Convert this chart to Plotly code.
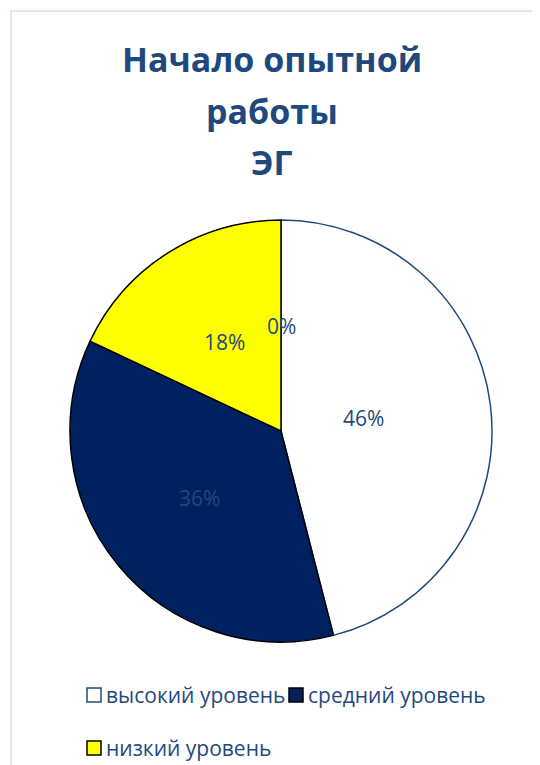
import math
import plotly.graph_objects as go

# ---- data ----
categories = ["высокий уровень", "средний уровень", "низкий уровень", ""]
values = [46, 36, 18, 0]
title_lines = ["Начало опытной", "работы", "ЭГ"]

slice_colors = ["#FFFFFF", "#002060", "#FFFF00", "#FFFFFF"]
line_colors = ["#1F497D", "#000000", "#000000", "#000000"]
TEXT = "#1F497D"
FONT = "Open Sans"

W, H = 540, 765
OFF = 8                      # page body margin
cx, cy, R = 281 - OFF, 431 - OFF, 211  # pie centre / radius (figure px)


def px(x):
    return x / W


def py(y):
    return 1 - y / H


shown = [i for i, c in enumerate(categories) if c]

fig = go.Figure()
fig.add_trace(go.Pie(
    labels=[categories[i] for i in shown],
    values=[values[i] for i in shown],
    sort=False,
    direction="clockwise",
    rotation=0,
    marker=dict(colors=[slice_colors[i] for i in shown],
                line=dict(color=[line_colors[i] for i in shown], width=1.5)),
    textinfo="none",
    hoverinfo="label+percent",
    domain=dict(x=[px(cx - R), px(cx + R)], y=[py(cy + R), py(cy - R)]),
    showlegend=False,
))

annotations = []
shapes = []

# percentage labels at half radius on each slice's mid-angle
total = sum(values)
cum = 0
for v in values:
    mid = (cum + v / 2) / total * 2 * math.pi
    cum += v
    lx = cx + 0.5 * R * math.sin(mid)
    ly = cy - 0.5 * R * math.cos(mid)
    annotations.append(dict(
        x=px(lx), y=py(ly), xref="paper", yref="paper",
        text=f"{round(v / total * 100)}%", showarrow=False,
        font=dict(family=FONT, size=21, color=TEXT),
    ))

# title, one annotation per line
baselines = [63, 115, 166]
for line, b in zip(title_lines, baselines):
    annotations.append(dict(
        x=px(263.5), y=py(b - 12), xref="paper", yref="paper",
        xanchor="center", yanchor="middle",
        text=line, showarrow=False,
        font=dict(family=FONT, size=34, color=TEXT, weight="bold"),
    ))

# legend (rows laid out like the original)
legend_pos = [(79, 687), (281, 687), (79, 740)]
for (lx, ly), i in zip(legend_pos, shown):
    shapes.append(dict(type="rect", xref="paper", yref="paper",
                       x0=px(lx), x1=px(lx + 14), y0=py(ly + 7), y1=py(ly - 7),
                       fillcolor=slice_colors[i],
                       line=dict(color=line_colors[i], width=1.5)))
    annotations.append(dict(
        x=px(lx + 17), y=py(ly), xref="paper", yref="paper",
        xanchor="left", yanchor="middle", text=categories[i], showarrow=False,
        font=dict(family=FONT, size=21, color=TEXT),
    ))

# chart-area frame
shapes.append(dict(type="rect", xref="paper", yref="paper",
                   x0=px(3), x1=1.05, y0=-0.05, y1=py(3),
                   line=dict(color="#D6E0EE", width=1.5),
                   fillcolor="rgba(0,0,0,0)", layer="below"))

fig.update_layout(
    width=W, height=H,
    margin=dict(l=0, r=0, t=0, b=0),
    paper_bgcolor="white",
    plot_bgcolor="white",
    annotations=annotations,
    shapes=shapes,
    showlegend=False,
)

fig.write_html("out.html")
